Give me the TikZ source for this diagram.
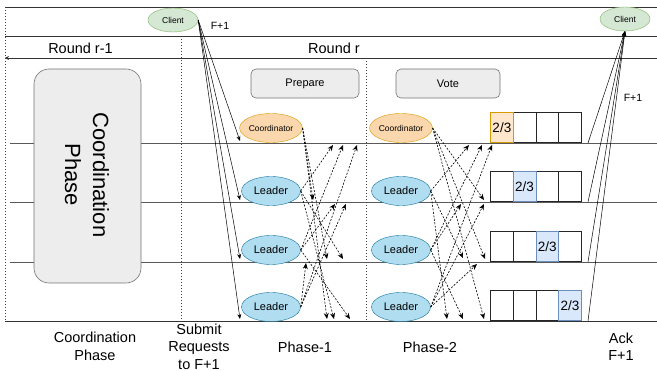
\documentclass[tikz,border=0pt]{standalone}
\usepackage{fontspec}
\setmainfont{Liberation Sans}
\usetikzlibrary{shapes.geometric,arrows.meta}
\definecolor{cgreenf}{HTML}{D5E8D4}
\definecolor{cgreend}{HTML}{82B366}
\definecolor{coraf}{HTML}{FAD7AC}
\definecolor{corad}{HTML}{D79B00}
\definecolor{corbf}{HTML}{FFE6CC}
\definecolor{cbluef}{HTML}{B1DDF0}
\definecolor{cblued}{HTML}{10739E}
\definecolor{cblf}{HTML}{DAE8FC}
\definecolor{cbld}{HTML}{6C8EBF}
\begin{document}
\begin{tikzpicture}[x=1pt,y=-1pt,
  hline/.style={draw=black!80,line width=0.6pt},
  rowline/.style={draw=black!65,line width=0.6pt},
  vdash/.style={draw=black!75,line width=0.5pt,dash pattern=on 1.5pt off 1.5pt},
  client/.style={ellipse,draw=cgreend,fill=cgreenf,minimum width=50pt,minimum height=24pt,inner sep=0pt,font=\fontsize{8.5}{10}\selectfont},
  coord/.style={ellipse,draw=corad,fill=coraf,minimum width=57pt,minimum height=29pt,inner sep=0pt,font=\fontsize{8.5}{10}\selectfont},
  leader/.style={ellipse,draw=cblued,fill=cbluef,minimum width=59pt,minimum height=29pt,inner sep=0pt,font=\fontsize{11}{13}\selectfont},
  phasebox/.style={draw=black!55,fill=black!7,rounded corners=5pt,line width=0.6pt,inner sep=0pt,font=\fontsize{11}{13}\selectfont},
  cell/.style={draw=black!85,line width=1.2pt,minimum width=22.75pt,minimum height=30pt,inner sep=0pt,anchor=south west,font=\fontsize{13.5}{15}\selectfont},
  lbl/.style={inner sep=0pt,align=center,font=\fontsize{14.5}{17.5}\selectfont},
  smalllbl/.style={inner sep=0pt,font=\fontsize{10.5}{12}\selectfont},
  dar/.style={draw=black,line width=0.6pt,dash pattern=on 2pt off 1.5pt,-{Stealth[length=6pt,width=5pt]}},
  sar/.style={draw=black,line width=0.5pt,-{Stealth[length=5pt,width=4pt]}}
]
\useasboundingbox (0,0) rectangle (657,371);

% frame lines
\draw[hline] (5,7) -- (657,7);
\draw[hline] (5,36) -- (657,36);
\draw[hline,-{Stealth[length=4pt,width=4pt]}] (657,58) -- (5,58);
\draw[rowline] (10,143) -- (657,143);
\draw[rowline] (10,202) -- (657,202);
\draw[rowline] (10,262) -- (657,262);
\draw[hline] (5,321) -- (657,321);
\draw[vdash] (5,7) -- (5,321);
\draw[vdash] (181,36) -- (181,321);
\draw[vdash] (366,58) -- (366,321);

% labels on top
\node[lbl] (rl1) at (80.5,48) {Round r-1};
\node[lbl] (rl2) at (334,48) {Round r};
\node[smalllbl] (f1) at (220,26) {F+1};
\node[smalllbl] (f2) at (633,98) {F+1};

% boxes
\node[phasebox,rounded corners=15pt,minimum width=107pt,minimum height=214pt] (cph) at (87.5,176) {};
\node[rotate=-90,align=center,font=\fontsize{22}{28}\selectfont] (cphtxt) at (87,175) {Coordination\\Phase};
\node[phasebox,minimum width=108pt,minimum height=29pt] (prep) at (305,83.5) {Prepare};
\node[phasebox,minimum width=104pt,minimum height=29pt] (vote) at (448,83.5) {Vote};

% clients
\node[client] (cl1) at (173,20) {Client};
\node[client] (cl2) at (625,19) {Client};

% first column
\node[coord] (c1) at (271,128) {Coordinator};
\node[leader] (l1) at (271,191) {Leader};
\node[leader] (l2) at (271,250) {Leader};
\node[leader] (l3) at (271,307) {Leader};
% second column
\node[coord] (c2) at (401,128) {Coordinator};
\node[leader] (m1) at (401,191) {Leader};
\node[leader] (m2) at (401,250) {Leader};
\node[leader] (m3) at (401,307) {Leader};

% cells
\foreach \r/\yy in {1/143,2/202,3/262,4/321}{
  \foreach \c in {1,2,3,4}{
    \pgfmathsetmacro\xx{490+(\c-1)*22.75}
    \ifnum\r=\c\relax\else
      \node[cell] (b\r\c) at (\xx,\yy) {};
    \fi
  }
}
\node[cell,draw=corad,fill=corbf,line width=1pt] (b11) at (490,143) {2/3};
\node[cell,draw=cbld,fill=cblf,line width=0.8pt] (b22) at (512.75,202) {2/3};
\node[cell,draw=cbld,fill=cblf,line width=0.8pt] (b33) at (535.5,262) {2/3};
\node[cell,draw=cbld,fill=cblf,line width=0.8pt] (b44) at (558.25,321) {2/3};

% client requests
\foreach \n/\yy in {q1/141,q2/200,q3/259,q4/319}{
  \coordinate (\n) at (240,\yy);
  \draw[sar] (cl1.east) -- (\n);
}

% acks
\foreach \n/\yy in {a1/143,a2/202,a3/262,a4/321}{
  \coordinate (\n) at (588,\yy);
  \draw[sar] (\n) -- (cl2.south);
}

% phase-1 dashed arrows
\foreach \s/\x/\y/\n in {c1/313/200/p1,c1/327/259/p2,c1/327/319/p3,
                         l1/333/145/p4,l1/343/259/p5,l1/334/319/p6,
                         l2/343/145/p7,l2/335/204/p8,l2/350/319/p9,
                         l3/357/145/p10,l3/346/204/p11,l3/306/263/p12}{
  \coordinate (\n) at (\x,\y);
  \draw[dar] (\s.east) -- (\n);
}
% phase-2 dashed arrows
\foreach \s/\x/\y/\n in {c2/484/200/r1,c2/485/259/r2,c2/484/319/r3,
                         m1/469/145/r4,m1/463/258/r5,m1/447/319/r6,
                         m2/482/145/r7,m2/461/204/r8,m2/463/319/r9,
                         m3/492/145/r10,m3/484/204/r11,m3/477/264/r12}{
  \coordinate (\n) at (\x,\y);
  \draw[dar] (\s.east) -- (\n);
}

% bottom labels
\node[lbl] (bl1) at (95,346.5) {Coordination\\Phase};
\node[lbl] (bl2) at (199,346.5) {Submit\\Requests\\to F+1};
\node[lbl] (bl3) at (305,347) {Phase-1};
\node[lbl] (bl4) at (430,347) {Phase-2};
\node[lbl] (bl5) at (621,346.5) {Ack\\F+1};
\end{tikzpicture}
\end{document}
